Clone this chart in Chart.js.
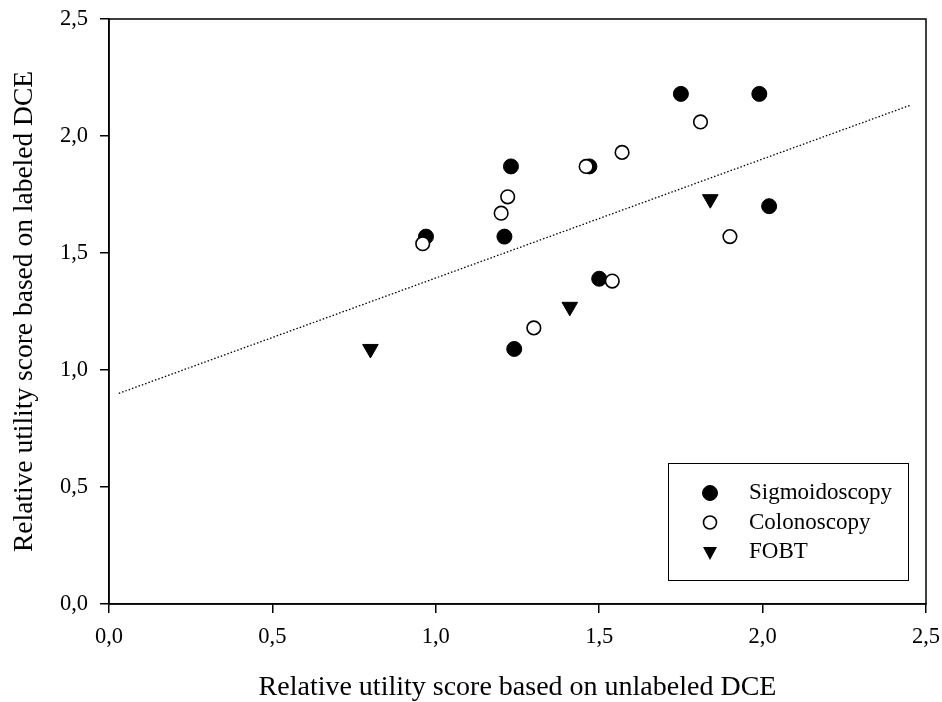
<!DOCTYPE html>
<html>
<head>
<meta charset="utf-8">
<script src="https://cdn.jsdelivr.net/npm/chart.js@4"></script>
<style>
  html, body { margin: 0; padding: 0; background: #fff; }
  #wrap { width: 942px; height: 702px; }
</style>
</head>
<body>
<div id="wrap"><canvas id="scatter-chart"></canvas></div>
<script>
// values
const sigmoX = [0.97, 1.21, 1.23, 1.24, 1.47, 1.50, 1.75, 1.99, 2.02];
const sigmoY = [1.57, 1.57, 1.87, 1.09, 1.87, 1.39, 2.18, 2.18, 1.70];
const colonX = [0.96, 1.20, 1.22, 1.30, 1.46, 1.54, 1.57, 1.81, 1.90];
const colonY = [1.54, 1.67, 1.74, 1.18, 1.87, 1.38, 1.93, 2.06, 1.57];
const fobtX = [0.80, 1.41, 1.84];
const fobtY = [1.09, 1.27, 1.73];
// regression line end points
const fitX = [0.03, 2.455];
const fitY = [0.90, 2.133];
const ticksXY = [0, 0.5, 1.0, 1.5, 2.0, 2.5];
const legendNames = ["Sigmoidoscopy", "Colonoscopy", "FOBT"];

const pts = (xs, ys) => xs.map((x, i) => ({x: x, y: ys[i]}));
const fmt = v => v.toFixed(1).replace(".", ",");
const serif = "'Liberation Serif', 'Times New Roman', serif";

// box round the plot area
const frame = {
  id: "frame",
  afterDraw(chart) {
    const {ctx, chartArea: a} = chart;
    ctx.save();
    ctx.strokeStyle = "#000";
    ctx.lineWidth = 1.5;
    ctx.strokeRect(a.left, a.top, a.right - a.left, a.bottom - a.top);
    ctx.restore();
  }
};

// legend in a box inside the plot
const boxLegend = {
  id: "boxLegend",
  afterDraw(chart) {
    const {ctx, chartArea: a} = chart;
    const x0 = a.right - 258, y0 = a.bottom - 141;
    ctx.save();
    ctx.strokeStyle = "#000";
    ctx.lineWidth = 1;
    ctx.strokeRect(x0 + 0.5, y0 + 0.5, 240, 117);
    ctx.font = "23px " + serif;
    ctx.textBaseline = "middle";
    [0, 1, 2].forEach(i => {
      const ds = chart.data.datasets[i];
      const cy = y0 + 30 + i * 29.5;
      ctx.fillStyle = ds.backgroundColor;
      ctx.strokeStyle = "#000";
      ctx.lineWidth = ds.borderWidth;
      ctx.beginPath();
      if (i == 2) {
        ctx.moveTo(x0 + 35, cy - 5); ctx.lineTo(x0 + 49, cy - 5); ctx.lineTo(x0 + 42, cy + 8);
        ctx.closePath(); ctx.fillStyle = "#000"; ctx.fill();
      } else {
        ctx.arc(x0 + 42, cy, i == 0 ? 7.5 : 6.5, 0, Math.PI * 2);
        ctx.fill(); ctx.stroke();
      }
      ctx.fillStyle = "#000";
      ctx.fillText(legendNames[i], x0 + 81, cy);
    });
    ctx.restore();
  }
};

window.onload = () => {
  new Chart(document.getElementById("scatter-chart"), {
    type: "scatter",
    data: {
      datasets: [
        {
          label: legendNames[0],
          data: pts(sigmoX, sigmoY),
          pointStyle: "circle",
          pointRadius: 7.5,
          backgroundColor: "#000",
          borderColor: "#000",
          borderWidth: 1,
          order: 2
        },
        {
          label: legendNames[1],
          data: pts(colonX, colonY),
          pointStyle: "circle",
          pointRadius: 6.8,
          backgroundColor: "#fff",
          borderColor: "#000",
          borderWidth: 1.6,
          order: 1
        },
        {
          label: legendNames[2],
          data: pts(fobtX, fobtY),
          pointStyle: "triangle",
          pointRotation: 180,
          pointRadius: 9,
          backgroundColor: "#000",
          borderColor: "#000",
          borderWidth: 1,
          order: 0
        },
        {
          label: "fit",
          type: "line",
          data: pts(fitX, fitY),
          borderColor: "#000",
          borderWidth: 1.3,
          borderDash: [1.5, 2],
          pointRadius: 0,
          fill: false,
          order: 5
        }
      ]
    },
    options: {
      responsive: true,
      maintainAspectRatio: false,
      animation: false,
      layout: { padding: { top: 19, right: 16, left: 0, bottom: 0 } },
      plugins: {
        legend: { display: false },
        tooltip: { enabled: false }
      },
      scales: {
        x: {
          type: "linear",
          min: 0, max: 2.5,
          afterBuildTicks: s => { s.ticks = ticksXY.map(v => ({value: v})); },
          afterFit: s => { s.height = 98; s.paddingLeft = 0; s.paddingRight = 0; },
          border: { display: true, color: "#000", width: 1.5 },
          grid: { drawOnChartArea: false, drawTicks: true, tickLength: 9, color: "#000", lineWidth: 1.5 },
          ticks: { color: "#000", padding: 11, maxRotation: 0, font: { family: serif, size: 22.5 }, callback: v => fmt(v) },
          title: {
            display: true,
            text: "Relative utility score based on unlabeled DCE",
            color: "#000",
            font: { family: serif, size: 28, lineHeight: 1 },
            padding: { top: 0, bottom: 0 }
          }
        },
        y: {
          type: "linear",
          min: 0, max: 2.5,
          afterBuildTicks: s => { s.ticks = ticksXY.map(v => ({value: v})); },
          afterFit: s => { s.width = 109; s.paddingTop = 0; s.paddingBottom = 0; },
          border: { display: true, color: "#000", width: 1.5 },
          grid: { drawOnChartArea: false, drawTicks: true, tickLength: 9, color: "#000", lineWidth: 1.5 },
          ticks: { color: "#000", padding: 12, font: { family: serif, size: 22.5 }, callback: v => fmt(v) },
          title: {
            display: true,
            text: "Relative utility score based on labeled DCE",
            color: "#000",
            font: { family: serif, size: 27.5, lineHeight: 1 },
            padding: { top: 11, bottom: 0 }
          }
        }
      }
    },
    plugins: [frame, boxLegend]
  });
};
</script>
</body>
</html>
